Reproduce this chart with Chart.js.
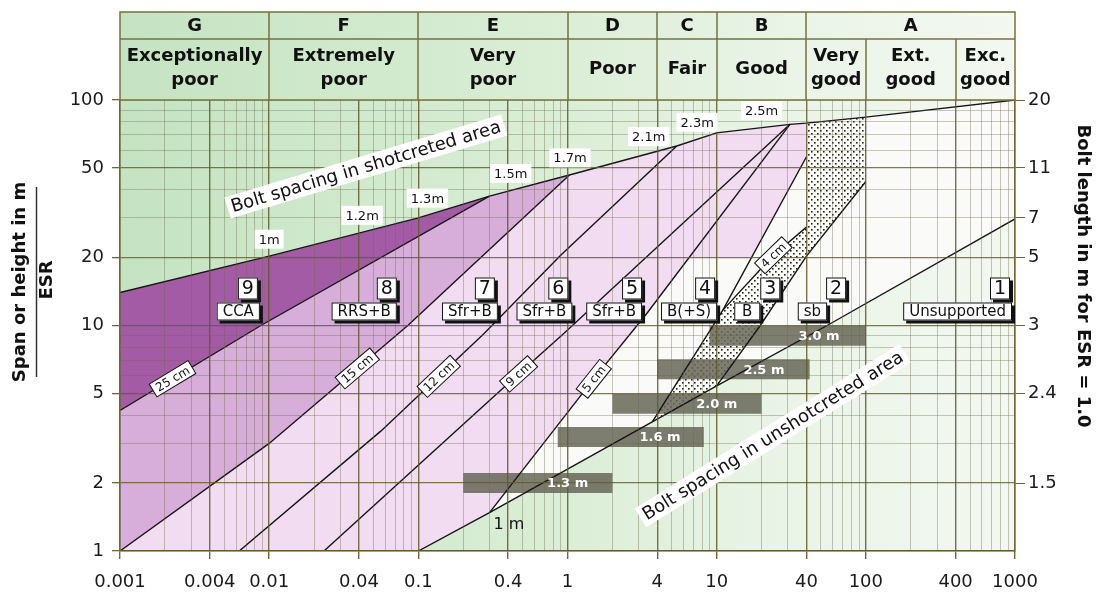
<!DOCTYPE html>
<html>
<head>
<meta charset="utf-8">
<title>Q-system support chart</title>
<script src="https://cdn.jsdelivr.net/npm/chart.js@4.4.1/dist/chart.umd.min.js"></script>
<style>
  html, body { margin: 0; padding: 0; background: #ffffff; }
  canvas { display: block; }
</style>
</head>
<body>
<canvas id="qChart" width="1101" height="594"></canvas>
<script>
// Rock mass classes shown in the header
const qClassLetters = ['G', 'F', 'E', 'D', 'C', 'B', 'A'];
const qClassEdges = [0.001, 0.01, 0.1, 1, 4, 10, 40, 1000];
const qClassNames = [['Exceptionally', 'poor'], ['Extremely', 'poor'], ['Very', 'poor'], ['Poor'], ['Fair'], ['Good']];
const qSubEdges = [40, 100, 400, 1000];
const qSubNames = [['Very', 'good'], ['Ext.', 'good'], ['Exc.', 'good']];

// Tick labels
const xTickLabels = [0.001, 0.004, 0.01, 0.04, 0.1, 0.4, 1, 4, 10, 40, 100, 400, 1000];
const yTickLabels = [1, 2, 5, 10, 20, 50, 100];
const boltLengthAt = [100, 50, 30, 20, 10, 5, 2];
const boltLengthLabels = ['20', '11', '7', '5', '3', '2.4', '1.5'];

// Boundary lines, [Q, span/ESR]
const topLine = [[0.001, 14], [0.01, 20.3], [0.1, 30], [0.3, 37.5], [1.03, 46.5], [5.4, 62.5], [10, 71.5], [31, 78], [40, 79], [100, 84], [1000, 100]];
const cm25 = [[0.001, 4.2], [0.0088, 10], [0.3, 37.5]];
const cm15 = [[0.001, 1], [0.01, 3.0], [0.085, 10], [1.03, 46.5]];
const cm12 = [[0.0063, 1], [0.056, 3.4], [0.275, 9.2], [0.9, 20.5], [5.4, 62.5]];
const cm9 = [[0.0233, 1], [0.47, 6.1], [0.94, 9.2], [31, 78]];
const cm5 = [[0.3, 1.48], [1.5, 5.8], [3.4, 11.3], [31, 78]];
const lineC = [[3.7, 3.74], [11, 11.7], [40, 56]];
const cm4 = [[11, 11.7], [24, 20.5], [40, 27.3]];
const hatchEdge = [[10, 5.4], [19.6, 10], [40, 20.3], [100, 43.5]];
const boltLine = [[0.1, 1], [0.3, 1.48], [3.7, 3.74], [10, 5.4], [55, 10], [1000, 29.7]];
const pinkFloor = 20;

// Bolt spacing bars in the unshotcreted area
const barLabels = ['1.3 m', '1.6 m', '2.0 m', '2.5 m', '3.0 m'];
const barSpan = [2, 3.2, 4.5, 6.4, 9];
const barFromQ = [0.2, 0.86, 2, 4, 9];
const barToQ = [2, 8.2, 20, 42, 100];

// Bolt spacing along the shotcrete boundary
const shotSpacing = ['1m', '1.2m', '1.3m', '1.5m', '1.7m', '2.1m', '2.3m', '2.5m'];
const shotSpacingQ = [0.01, 0.042, 0.115, 0.416, 1.04, 3.5, 7.4, 20];

// Shotcrete thickness tags
const thicknessLabels = ['25 cm', '15 cm', '12 cm', '9 cm', '5 cm', '4 cm'];
const thicknessQ = [0.00225, 0.039, 0.137, 0.47, 1.5, 24];

// Support categories
const supportNo = ['9', '8', '7', '6', '5', '4', '3', '2', '1'];
const supportType = ['CCA', 'RRS+B', 'Sfr+B', 'Sfr+B', 'Sfr+B', 'B(+S)', 'B', 'sb', 'Unsupported'];

// ---------- helpers ----------
function interp(line, v, from, to) {
  for (let i = 0; i < line.length - 1; i++) {
    const a = line[i], b = line[i + 1];
    const lo = Math.min(a[from], b[from]), hi = Math.max(a[from], b[from]);
    if (v >= lo && v <= hi) {
      const t = (Math.log(v) - Math.log(a[from])) / (Math.log(b[from]) - Math.log(a[from]));
      return Math.exp(Math.log(a[to]) + t * (Math.log(b[to]) - Math.log(a[to])));
    }
  }
  return NaN;
}
const spanAt = (line, q) => interp(line, q, 0, 1);
const qAt = (line, s) => interp(line, s, 1, 0);

// piece of a line between two Q values, in the requested direction
function part(line, q0, q1) {
  const lo = Math.min(q0, q1), hi = Math.max(q0, q1);
  const inner = line.filter(p => p[0] > lo * 1.0001 && p[0] < hi * 0.9999);
  const out = [[lo, spanAt(line, lo)], ...inner, [hi, spanAt(line, hi)]];
  return q0 <= q1 ? out : out.reverse();
}

const thicknessLines = [cm25, cm15, cm12, cm9, cm5, cm4];
const supportEdges = [cm25, cm15, cm12, cm9, cm5, lineC, hatchEdge, boltLine, null];

// Filled regions built from the lines
const q5Floor = qAt(cm5, pinkFloor), qCFloor = qAt(lineC, pinkFloor);
const zoneOpen = [...boltLine, ...part(topLine, 1000, 0.001), [0.001, 1]];
const zone9 = [...part(topLine, 0.001, 0.3), ...part(cm25, 0.3, 0.001)];
const zone8 = [...cm25, ...part(topLine, 0.3, 1.03), ...part(cm15, 1.03, 0.001)];
const zoneShot = [...cm15, ...part(topLine, 1.03, 40), ...part(lineC, 40, qCFloor),
  ...part(cm5, q5Floor, 0.3), ...part(boltLine, 0.3, 0.1), [0.001, 1]];
const zoneDots = [...part(lineC, 3.7, 11), ...part(cm4, 11, 40), ...part(topLine, 40, 100),
  ...part(hatchEdge, 100, 10), ...part(boltLine, 10, 3.7)];

function dotPattern() {
  const cv = document.createElement('canvas');
  cv.width = 6; cv.height = 6;
  const g = cv.getContext('2d');
  g.fillStyle = '#fbfbf7';
  g.fillRect(0, 0, 6, 6);
  g.fillStyle = '#222222';
  g.fillRect(1, 1, 1.6, 1.6);
  g.fillRect(4, 4, 1.6, 1.6);
  return g.createPattern(cv, 'repeat');
}

const toXY = line => line.map(p => ({ x: p[0], y: p[1] }));
const zone = (line, color, order) => ({
  data: toXY(line), showLine: true, fill: 'shape', backgroundColor: color,
  borderColor: 'rgba(0,0,0,0)', borderWidth: 0, pointRadius: 0, order
});
const curve = line => ({
  data: toXY(line), showLine: true, fill: false, borderColor: '#151515',
  borderWidth: 1.4, pointRadius: 0, order: 10
});
const bar = i => ({
  data: [{ x: barFromQ[i], y: barSpan[i] }, { x: barToQ[i], y: barSpan[i] }],
  showLine: true, fill: false, borderColor: 'rgba(104,104,90,0.86)', borderWidth: 20,
  borderCapStyle: 'butt', pointRadius: 0, order: 50
});

const datasets = [
  zone(zoneOpen, '#fafbf8', 100),
  zone(zone9, '#a45ba6', 90),
  zone(zone8, '#d7aed9', 90),
  zone(zoneShot, '#f2dcf1', 90),
  zone(zoneDots, dotPattern(), 85),
  ...barLabels.map((_, i) => bar(i)),
  ...[topLine, cm25, cm15, cm12, cm9, cm5, lineC, cm4, hatchEdge, boltLine].map(curve)
];

// grid values (every 1..9 of each decade)
const xGrid = [], yGrid = [];
for (let e = -3; e <= 2; e++) for (let m = 1; m <= 9; m++) xGrid.push(+(m * Math.pow(10, e)).toPrecision(3));
xGrid.push(1000);
for (let e = 0; e <= 1; e++) for (let m = 1; m <= 9; m++) yGrid.push(m * Math.pow(10, e));
yGrid.push(100);
const listed = (list, v) => list.some(t => Math.abs(t - v) < t * 1e-6);

const ink = '#6e6838';
const tickFont = { family: 'DejaVu Sans', size: 18 };
const F = (w, s) => (w ? 'bold ' : '') + s + 'px "DejaVu Sans"';

function greenRamp(c, a) {
  const g = c.createLinearGradient(a.left, 0, a.right, 0);
  g.addColorStop(0, '#c4e3c1');
  g.addColorStop(0.5, '#dbeed7');
  g.addColorStop(0.75, '#eaf4e7');
  g.addColorStop(1, '#f3f8f1');
  return g;
}

// ---------- placement of the free text ----------
const shotTextAt = { q: 0.0445, s: 50.7, deg: -16.7 };
const unshotTextAt = { q: 23.8, s: 3.25, deg: -31.9 };
const oneMetreAt = { q: 0.405, s: 1.31 };
const boxNudge = [-1, -11, 6, 0, 5, 4, 0, 0, -3];
const numberDx = [-12, -10, -13, -14, -10, -12, 10, 9, -12];

function plate(c, text, x, y, deg, font, border, h) {
  c.save();
  c.translate(x, y);
  c.rotate(deg * Math.PI / 180);
  c.font = font;
  const w = c.measureText(text).width + 8;
  c.fillStyle = '#ffffff';
  c.fillRect(-w / 2, -h / 2, w, h);
  if (border) {
    c.strokeStyle = '#111111';
    c.lineWidth = 1;
    c.strokeRect(-w / 2, -h / 2, w, h);
  }
  c.fillStyle = '#111111';
  c.textAlign = 'center';
  c.textBaseline = 'middle';
  c.fillText(text, 0, 1);
  c.restore();
}

function shadowBox(c, x, y, w, h) {
  c.fillStyle = '#111111';
  c.fillRect(x + 3, y + 3, w, h);
  c.fillStyle = '#ffffff';
  c.fillRect(x, y, w, h);
  c.strokeStyle = '#111111';
  c.lineWidth = 1;
  c.strokeRect(x + 0.5, y + 0.5, w - 1, h - 1);
}

function drawHeader(c, chart) {
  const a = chart.chartArea, x = chart.scales.x;
  const top = 12, mid = 39, bottom = a.top;
  c.save();
  c.fillStyle = greenRamp(c, a);
  c.fillRect(a.left, top, a.right - a.left, bottom - top);
  c.strokeStyle = '#77723c';
  c.lineWidth = 1.5;
  c.strokeRect(a.left, top, a.right - a.left, bottom - top);
  c.beginPath();
  c.moveTo(a.left, mid);
  c.lineTo(a.right, mid);
  qClassEdges.slice(1, -1).forEach(q => {
    const px = Math.round(x.getPixelForValue(q));
    c.moveTo(px, top); c.lineTo(px, bottom);
  });
  qSubEdges.slice(1, -1).forEach(q => {
    const px = Math.round(x.getPixelForValue(q));
    c.moveTo(px, mid); c.lineTo(px, bottom);
  });
  c.stroke();

  c.fillStyle = '#111111';
  c.font = F(true, 18);
  c.textAlign = 'center';
  c.textBaseline = 'middle';
  const centre = (edges, i) => (x.getPixelForValue(edges[i]) + x.getPixelForValue(edges[i + 1])) / 2;
  qClassLetters.forEach((L, i) => c.fillText(L, centre(qClassEdges, i), 26));
  const names = (edges, list) => list.forEach((lines, i) => {
    const cx = centre(edges, i);
    if (lines.length === 1) c.fillText(lines[0], cx, 69);
    else { c.fillText(lines[0], cx, 56); c.fillText(lines[1], cx, 80); }
  });
  names(qClassEdges, qClassNames);
  names(qSubEdges, qSubNames);
  c.restore();
}

const backdrop = {
  id: 'backdrop',
  beforeDraw(chart) {
    const c = chart.ctx, a = chart.chartArea;
    c.save();
    c.fillStyle = '#ffffff';
    c.fillRect(0, 0, chart.width, chart.height);
    c.fillStyle = greenRamp(c, a);
    c.fillRect(a.left, a.top, a.right - a.left, a.bottom - a.top);
    c.restore();
  }
};

const annotations = {
  id: 'annotations',
  afterDraw(chart) {
    const c = chart.ctx, a = chart.chartArea;
    const X = q => chart.scales.x.getPixelForValue(q);
    const Y = s => chart.scales.y.getPixelForValue(s);
    c.save();

    // bar captions
    c.font = F(true, 13);
    c.fillStyle = '#ffffff';
    c.textAlign = 'center';
    c.textBaseline = 'middle';
    barLabels.forEach((t, i) => {
      const x0 = X(barFromQ[i]), x1 = X(barToQ[i]);
      c.fillText(t, x0 + 0.7 * (x1 - x0), Y(barSpan[i]) + 1);
    });

    // bolt spacing on the shotcrete boundary
    shotSpacing.forEach((t, i) => {
      const q = shotSpacingQ[i];
      plate(c, t, X(q), Y(spanAt(topLine, q)) - 17, 0, F(false, 13), false, 19);
    });

    // area captions
    plate(c, 'Bolt spacing in shotcreted area', X(shotTextAt.q), Y(shotTextAt.s), shotTextAt.deg, F(false, 18), false, 22);
    plate(c, 'Bolt spacing in unshotcreted area', X(unshotTextAt.q), Y(unshotTextAt.s), unshotTextAt.deg, F(false, 18), false, 22);

    // shotcrete thickness tags along their lines
    thicknessLabels.forEach((t, i) => {
      const line = thicknessLines[i], q = thicknessQ[i];
      const x = X(q), y = Y(spanAt(line, q));
      const q1 = q * 0.92, q2 = q * 1.08;
      const ang = Math.atan2(Y(spanAt(line, q2)) - Y(spanAt(line, q1)), X(q2) - X(q1)) * 180 / Math.PI;
      plate(c, t, x, y, ang, F(false, 12), true, 15);
    });

    // support category boxes
    const base = Y(10) - 5;
    supportType.forEach((name, i) => {
      const edge = supportEdges[i];
      const right = (edge ? X(qAt(edge, 10)) : a.right) + boxNudge[i];
      c.font = F(false, 15);
      const w = Math.max(c.measureText(name).width + 12, 26), h = 18;
      const x0 = right - w, y0 = base - h;
      shadowBox(c, x0, y0, w, h);
      c.fillStyle = '#111111';
      c.fillText(name, x0 + w / 2, y0 + h / 2 + 1);
      const nx = right + numberDx[i], nw = 20, nh = 22, ny0 = y0 - 3 - nh;
      shadowBox(c, nx - nw / 2, ny0, nw, nh);
      c.fillStyle = '#111111';
      c.font = F(false, 19);
      c.fillText(supportNo[i], nx, ny0 + nh / 2 + 1);
    });

    // 1 m spacing at the lower end
    c.font = F(false, 16);
    c.fillStyle = '#111111';
    c.fillText('1 m', X(oneMetreAt.q), Y(oneMetreAt.s));

    // axis titles
    c.font = F(true, 18);
    c.textAlign = 'center';
    c.textBaseline = 'alphabetic';
    c.save();
    c.translate(25, 282);
    c.rotate(-Math.PI / 2);
    c.fillText('Span or height in m', 0, 0);
    c.restore();
    c.save();
    c.translate(52, 280);
    c.rotate(-Math.PI / 2);
    c.fillText('ESR', 0, 0);
    c.restore();
    c.strokeStyle = '#333333';
    c.lineWidth = 1.5;
    c.beginPath();
    c.moveTo(36.5, 187);
    c.lineTo(36.5, 377);
    c.stroke();
    c.save();
    c.translate(1078, 276);
    c.rotate(Math.PI / 2);
    c.fillText('Bolt length in m for ESR = 1.0', 0, 0);
    c.restore();

    c.restore();
    drawHeader(c, chart);
  }
};

new Chart(document.getElementById('qChart'), {
  type: 'scatter',
  data: { datasets },
  options: {
    responsive: false,
    animation: false,
    events: [],
    layout: { padding: { top: 100 } },
    plugins: { legend: { display: false }, tooltip: { enabled: false } },
    scales: {
      x: {
        type: 'logarithmic', min: 0.001, max: 1000,
        afterBuildTicks: s => { s.ticks = xGrid.map(v => ({ value: v })); },
        afterFit: s => { s.height = 43; },
        ticks: {
          autoSkip: false, maxRotation: 0, minRotation: 0, padding: 13, color: '#1a1a1a', font: tickFont,
          callback: v => listed(xTickLabels, v) ? String(v) : ''
        },
        grid: {
          z: 1, tickLength: 8,
          color: c => c.tick && listed(xTickLabels, c.tick.value) ? 'rgba(96,90,40,0.85)' : 'rgba(110,104,70,0.42)',
          lineWidth: c => c.tick && listed(xTickLabels, c.tick.value) ? 1.4 : 0.9,
          tickColor: c => c.tick && listed(xTickLabels, c.tick.value) ? ink : 'rgba(0,0,0,0)'
        },
        border: { z: 1, color: ink, width: 1.5 }
      },
      y: {
        type: 'logarithmic', position: 'left', min: 1, max: 100,
        afterBuildTicks: s => { s.ticks = yGrid.map(v => ({ value: v })); },
        afterFit: s => { s.width = 120; },
        ticks: {
          autoSkip: false, padding: 8, color: '#1a1a1a', font: tickFont,
          callback: v => listed(yTickLabels, v) ? String(v) : ''
        },
        grid: {
          z: 1, tickLength: 8,
          color: c => c.tick && listed(yTickLabels, c.tick.value) ? 'rgba(96,90,40,0.8)' : 'rgba(110,104,70,0.4)',
          lineWidth: c => c.tick && listed(yTickLabels, c.tick.value) ? 1.3 : 0.9,
          tickColor: c => c.tick && listed(yTickLabels, c.tick.value) ? ink : 'rgba(0,0,0,0)'
        },
        border: { z: 1, color: ink, width: 1.5 }
      },
      y2: {
        type: 'logarithmic', position: 'right', min: 1, max: 100,
        afterBuildTicks: s => { s.ticks = boltLengthAt.map(v => ({ value: v })); },
        afterFit: s => { s.width = 86; },
        ticks: {
          autoSkip: false, padding: 3, color: '#1a1a1a', font: tickFont,
          callback: v => boltLengthLabels[boltLengthAt.indexOf(v)]
        },
        grid: { drawOnChartArea: false, tickLength: 10, tickColor: ink },
        border: { z: 1, color: ink, width: 1.5 }
      }
    }
  },
  plugins: [backdrop, annotations]
});
</script>
</body>
</html>
